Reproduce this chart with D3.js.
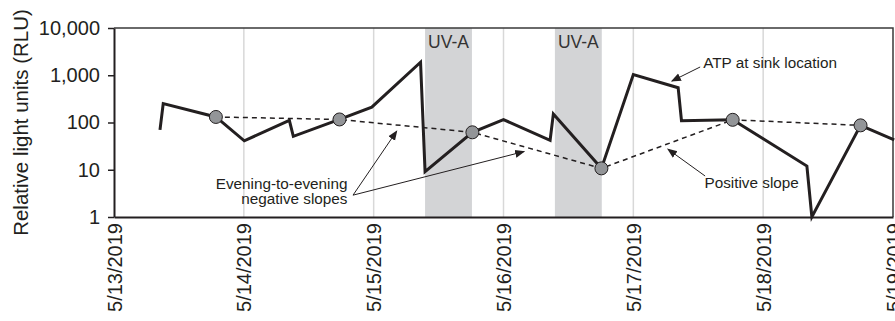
<!DOCTYPE html>
<html>
<head>
<meta charset="utf-8">
<script src="https://cdn.jsdelivr.net/npm/d3@7"></script>
<style>
  body { margin: 0; background: #fff; }
  text { font-family: "Liberation Sans", Arial, sans-serif; fill: #231f20; }
</style>
</head>
<body>
<script>
// ATP readings at the sink (time, RLU)
var times = ["2019-05-13T08:30", "2019-05-13T09:06", "2019-05-13T18:50", "2019-05-14T00:05",
             "2019-05-14T08:25", "2019-05-14T09:09", "2019-05-14T17:41", "2019-05-14T23:39",
             "2019-05-15T08:40", "2019-05-15T09:30", "2019-05-15T18:15", "2019-05-16T00:00",
             "2019-05-16T08:37", "2019-05-16T09:13", "2019-05-16T18:06", "2019-05-17T00:00",
             "2019-05-17T08:17", "2019-05-17T08:54", "2019-05-17T18:22", "2019-05-18T08:05",
             "2019-05-18T09:00", "2019-05-18T18:00", "2019-05-19T00:13"];
var rlu = [70, 252, 131, 41, 111, 51, 116, 212, 1884, 9.1, 62, 115,
           42, 152, 10.7, 1035, 545, 109, 114, 12, 1, 87, 43];
// indices of evening readings (circles + dashed line)
var eveningIdx = [2, 6, 10, 14, 18, 21];

var uvStart = ["2019-05-15T09:30", "2019-05-16T09:30"];
var uvEnd   = ["2019-05-15T18:10", "2019-05-16T18:10"];

var yTicks = [1, 10, 100, 1000, 10000];

var width = 895, height = 321;
var margin = {top: 28, right: 2, bottom: 104, left: 114};

var parse = d3.timeParse("%Y-%m-%dT%H:%M");
var data = times.map(function(t, i) { return {date: parse(t), v: rlu[i]}; });
var evening = eveningIdx.map(function(i) { return data[i]; });

var x = d3.scaleTime()
    .domain([parse("2019-05-13T00:00"), parse("2019-05-19T00:00")])
    .range([margin.left, width - margin.right]);
var y = d3.scaleLog()
    .domain([1, 10000])
    .range([height - margin.bottom, margin.top]);

var svg = d3.select('body').append('svg')
    .attr('width', width)
    .attr('height', height);

var defs = svg.append('defs');
defs.append('marker')
    .attr('id', 'arr')
    .attr('viewBox', '0 0 10 10')
    .attr('refX', 9).attr('refY', 5)
    .attr('markerWidth', 10).attr('markerHeight', 10)
    .attr('markerUnits', 'userSpaceOnUse')
    .attr('orient', 'auto')
  .append('path')
    .attr('d', 'M0,1 L10,5 L0,9 Z')
    .attr('fill', '#231f20');

/* ---------- grid + UV bands ---------- */
var days = x.ticks(d3.timeDay.every(1));
svg.append('g').selectAll('line')
    .data(days.slice(1, -1))
  .enter().append('line')
    .attr('x1', d => x(d)).attr('x2', d => x(d))
    .attr('y1', y(10000)).attr('y2', y(1))
    .attr('stroke', '#d8d8d8')
    .attr('stroke-width', 1.5);

var bands = uvStart.map((s, i) => ({s: parse(s), e: parse(uvEnd[i])}));
svg.append('g').selectAll('rect')
    .data(bands)
  .enter().append('rect')
    .attr('x', d => x(d.s))
    .attr('width', d => x(d.e) - x(d.s))
    .attr('y', y(10000))
    .attr('height', y(1) - y(10000))
    .attr('fill', '#d3d4d6');

svg.append('g').selectAll('text')
    .data(bands)
  .enter().append('text')
    .attr('x', d => (x(d.s) + x(d.e)) / 2)
    .attr('y', y(10000) + 20)
    .attr('text-anchor', 'middle')
    .style('font-size', '17.5px')
    .style('fill', '#333')
    .text('UV-A');

/* ---------- frame ---------- */
svg.append('path')
    .attr('d', 'M' + x.range()[0] + ',' + y(10000) + 'H' + x.range()[1] + 'V' + y(1))
    .attr('fill', 'none')
    .attr('stroke', '#3a3a3a')
    .attr('stroke-width', 1.5);

/* ---------- axes ---------- */
var yAxis = svg.append('g')
    .attr('transform', 'translate(' + margin.left + ',0)')
    .call(d3.axisLeft(y).tickValues(yTicks).tickFormat(d3.format(',')).tickSize(6).tickSizeOuter(0).tickPadding(8));
yAxis.select('.domain').attr('stroke', '#231f20').attr('stroke-width', 2);
yAxis.selectAll('.tick line').attr('stroke', '#231f20').attr('stroke-width', 1.5);
yAxis.selectAll('text').style('font-size', '20px').attr('font-family', null);

var xAxis = svg.append('g')
    .attr('transform', 'translate(0,' + y(1) + ')')
    .call(d3.axisBottom(x).ticks(d3.timeDay.every(1)).tickFormat(d3.timeFormat('%-m/%-d/%Y')).tickSize(0).tickSizeOuter(0));
xAxis.select('.domain').attr('stroke', '#231f20').attr('stroke-width', 2);
xAxis.selectAll('text')
    .style('font-size', '20px')
    .attr('font-family', null)
    .attr('text-anchor', 'end')
    .attr('transform', 'rotate(-90)')
    .attr('x', -6)
    .attr('y', 0)
    .attr('dy', '0.35em');

svg.append('text')
    .attr('transform', 'translate(28,' + ((margin.top + height - margin.bottom) / 2) + ') rotate(-90)')
    .attr('text-anchor', 'middle')
    .style('font-size', '20.5px')
    .text('Relative light units (RLU)');

/* ---------- series ---------- */
var line = d3.line().x(d => x(d.date)).y(d => y(d.v));

svg.append('path')
    .datum(evening)
    .attr('d', line)
    .attr('fill', 'none')
    .attr('stroke', '#231f20')
    .attr('stroke-width', 1.5)
    .attr('stroke-dasharray', '5,4');

svg.append('path')
    .datum(data)
    .attr('d', line)
    .attr('fill', 'none')
    .attr('stroke', '#231f20')
    .attr('stroke-width', 3)
    .attr('stroke-linejoin', 'miter');

svg.append('g').selectAll('circle')
    .data(evening)
  .enter().append('circle')
    .attr('cx', d => x(d.date))
    .attr('cy', d => y(d.v))
    .attr('r', 6.5)
    .attr('fill', '#939598')
    .attr('stroke', '#231f20')
    .attr('stroke-width', 1);

/* ---------- annotations ---------- */
var arrows = [
  {from: ["2019-05-17T12:21", 1496], to: ["2019-05-17T07:07", 753]},
  {from: ["2019-05-14T20:11", 2.9], to: ["2019-05-15T04:16", 66]},
  {from: ["2019-05-14T20:11", 2.9], to: ["2019-05-16T03:49", 24.3]},
  {from: ["2019-05-17T13:16", 7.37], to: ["2019-05-17T06:23", 27.3]}
];
svg.append('g').selectAll('line')
    .data(arrows)
  .enter().append('line')
    .attr('x1', d => x(parse(d.from[0]))).attr('y1', d => y(d.from[1]))
    .attr('x2', d => x(parse(d.to[0]))).attr('y2', d => y(d.to[1]))
    .attr('stroke', '#231f20')
    .attr('stroke-width', 1)
    .attr('marker-end', 'url(#arr)');

var labels = [
  {t: "2019-05-17T12:55", v: 1452, anchor: 'start', lines: ['ATP at sink location']},
  {t: "2019-05-14T19:10", v: 3.9, anchor: 'end', lines: ['Evening-to-evening', 'negative slopes']},
  {t: "2019-05-17T13:09", v: 4.03, anchor: 'start', lines: ['Positive slope']}
];
labels.forEach(function(l) {
  var tx = svg.append('text')
      .attr('x', x(parse(l.t)))
      .attr('y', y(l.v))
      .attr('text-anchor', l.anchor)
      .style('font-size', '15.3px');
  l.lines.forEach(function(s, i) {
    tx.append('tspan')
      .attr('x', x(parse(l.t)))
      .attr('dy', i ? 14.5 : 0)
      .text(s);
  });
});
</script>
</body>
</html>
